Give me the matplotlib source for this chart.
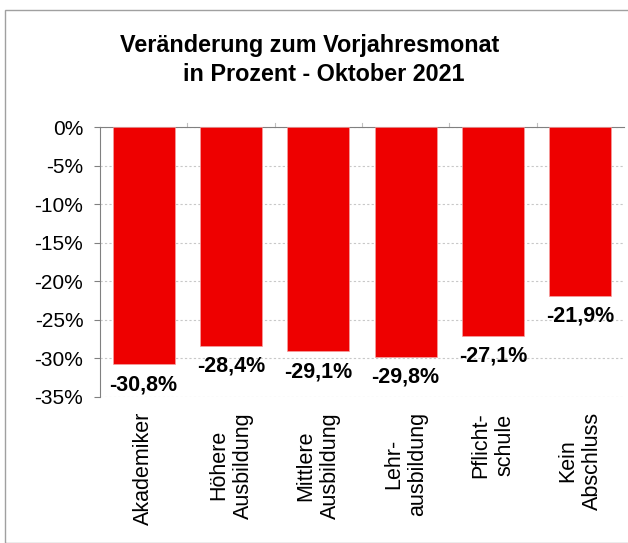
import numpy as np
import matplotlib
matplotlib.use("Agg")
import matplotlib.pyplot as plt
from matplotlib.patches import Rectangle

plt.rcParams['font.family'] = ['Liberation Sans', 'DejaVu Sans']
plt.rcParams['axes.unicode_minus'] = False

# data
categories = ['Akademiker', 'Höhere\nAusbildung', 'Mittlere\nAusbildung',
              'Lehr-\nausbildung', 'Pflicht-\nschule', 'Kein\nAbschluss']
values = [-30.8, -28.4, -29.1, -29.8, -27.1, -21.9]
yticks = [0, -5, -10, -15, -20, -25, -30, -35]
ytick_labels = ['0%', '-5%', '-10%', '-15%', '-20%', '-25%', '-30%', '-35%']

fig = plt.figure(figsize=(6.28, 5.43), dpi=100)
ax = fig.add_axes([100/628, 1-396.7/543, 524/628, (396.7-127.3)/543])

x = np.arange(len(categories))
ax.bar(x, values, width=0.71, color='#ee0000', edgecolor='#f4a0a0', linewidth=0.5, zorder=3)

for xi, v in zip(x, values):
    ax.annotate(('%.1f%%' % v).replace('.', ','), (xi, v), xytext=(0, -7),
                textcoords='offset points', ha='center', va='top',
                fontsize=15.5, fontweight='bold', zorder=4)

ax.set_xlim(-0.5, len(categories) - 0.5)
ax.set_ylim(-35, 0)
ax.set_yticks(yticks)
ax.set_yticklabels(ytick_labels, fontsize=15)
ax.set_xticks(x)
ax.set_xticklabels(categories, rotation=90, fontsize=15.5, va='top', ha='center')
ax.tick_params(axis='x', length=0, pad=11)
ax.tick_params(axis='y', length=4, color='#808080', pad=8)

# small ticks between categories on the zero line
for b in np.arange(0.5, len(categories) - 0.5):
    ax.plot([b, b], [0, 0.6], color='#c0c0c0', lw=0.8, clip_on=False)

ax.grid(axis='y', color='#c8c8c8', linestyle=(0, (2, 2)), linewidth=0.8, zorder=0)
for s in ['right', 'bottom']:
    ax.spines[s].set_visible(False)
ax.spines['left'].set_color('#808080')
ax.spines['top'].set_color('#808080')

fig.text(310/628, 1-52/543, 'Veränderung zum Vorjahresmonat', ha='center', va='baseline',
         fontsize=16.8, fontweight='bold')
fig.text(324/628, 1-81/543, 'in Prozent - Oktober 2021', ha='center', va='baseline',
         fontsize=16.8, fontweight='bold')

fig.patches.append(Rectangle((5/628, 0), 1, 1-10/543, transform=fig.transFigure,
                             fill=False, edgecolor='#a0a0a0', linewidth=1))

fig.savefig('out.png', dpi=100)
